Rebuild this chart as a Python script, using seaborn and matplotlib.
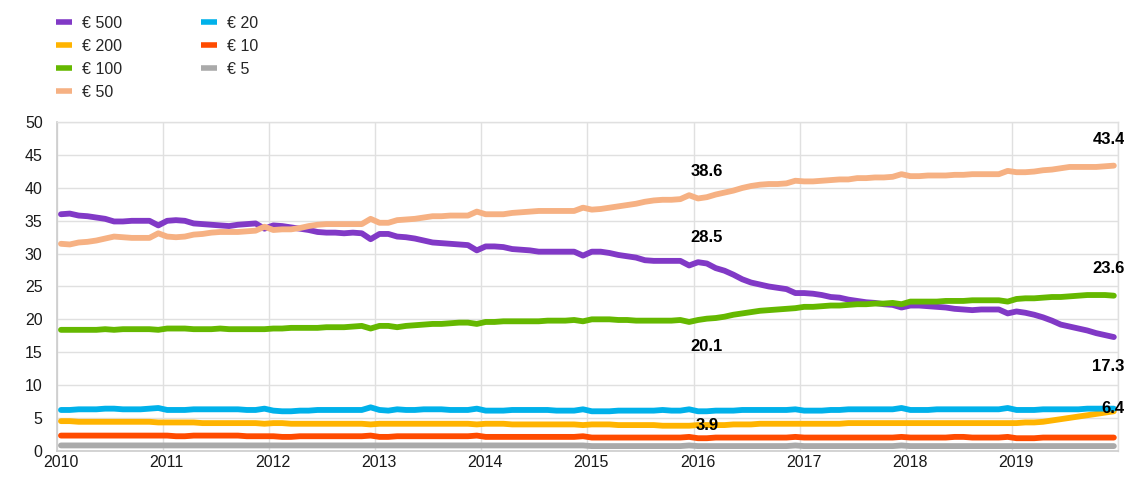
import numpy as np
import pandas as pd
import matplotlib
matplotlib.use("Agg")
import matplotlib.pyplot as plt
import matplotlib.transforms as mtransforms
from matplotlib.lines import Line2D
import seaborn as sns

# Share of banknote denominations in value of circulation (%), monthly, 2010-2019
years = list(range(2010, 2020))

eur500 = [
    36.0, 36.1, 35.8, 35.7, 35.5, 35.3, 34.9, 34.9, 35.0, 35.0, 35.0, 34.3,
    35.0, 35.1, 35.0, 34.6, 34.5, 34.4, 34.3, 34.2, 34.4, 34.5, 34.6, 33.8,
    34.3, 34.2, 34.0, 33.8, 33.6, 33.3, 33.2, 33.2, 33.1, 33.2, 33.1, 32.2,
    33.0, 33.0, 32.6, 32.5, 32.3, 32.0, 31.7, 31.6, 31.5, 31.4, 31.3, 30.5,
    31.1, 31.1, 31.0, 30.7, 30.6, 30.5, 30.3, 30.3, 30.3, 30.3, 30.3, 29.7,
    30.3, 30.3, 30.1, 29.8, 29.6, 29.4, 29.0, 28.9, 28.9, 28.9, 28.9, 28.2,
    28.7, 28.5, 27.8, 27.4, 26.8, 26.1, 25.6, 25.3, 25.0, 24.8, 24.6, 24.0,
    24.0, 23.9, 23.7, 23.4, 23.3, 23.0, 22.8, 22.6, 22.5, 22.3, 22.2, 21.8,
    22.1, 22.1, 22.0, 21.9, 21.8, 21.6, 21.5, 21.4, 21.5, 21.5, 21.5, 20.9,
    21.2, 21.0, 20.7, 20.3, 19.8, 19.2, 18.9, 18.6, 18.3, 17.9, 17.6, 17.3,
]
eur200 = [
    4.5, 4.5, 4.4, 4.4, 4.4, 4.4, 4.4, 4.4, 4.4, 4.4, 4.4, 4.3,
    4.3, 4.3, 4.3, 4.3, 4.2, 4.2, 4.2, 4.2, 4.2, 4.2, 4.2, 4.1,
    4.2, 4.2, 4.1, 4.1, 4.1, 4.1, 4.1, 4.1, 4.1, 4.1, 4.1, 4.0,
    4.1, 4.1, 4.1, 4.1, 4.1, 4.1, 4.1, 4.1, 4.1, 4.1, 4.1, 4.0,
    4.1, 4.1, 4.1, 4.0, 4.0, 4.0, 4.0, 4.0, 4.0, 4.0, 4.0, 3.9,
    4.0, 4.0, 4.0, 3.9, 3.9, 3.9, 3.9, 3.9, 3.8, 3.8, 3.8, 3.8,
    3.9, 3.9, 3.9, 3.9, 4.0, 4.0, 4.0, 4.1, 4.1, 4.1, 4.1, 4.1,
    4.1, 4.1, 4.1, 4.1, 4.1, 4.2, 4.2, 4.2, 4.2, 4.2, 4.2, 4.2,
    4.2, 4.2, 4.2, 4.2, 4.2, 4.2, 4.2, 4.2, 4.2, 4.2, 4.2, 4.2,
    4.2, 4.3, 4.3, 4.4, 4.6, 4.8, 5.0, 5.2, 5.4, 5.6, 5.8, 6.0,
]
eur100 = [
    18.4, 18.4, 18.4, 18.4, 18.4, 18.5, 18.4, 18.5, 18.5, 18.5, 18.5, 18.4,
    18.6, 18.6, 18.6, 18.5, 18.5, 18.5, 18.6, 18.5, 18.5, 18.5, 18.5, 18.5,
    18.6, 18.6, 18.7, 18.7, 18.7, 18.7, 18.8, 18.8, 18.8, 18.9, 19.0, 18.6,
    19.0, 19.0, 18.8, 19.0, 19.1, 19.2, 19.3, 19.3, 19.4, 19.5, 19.5, 19.3,
    19.6, 19.6, 19.7, 19.7, 19.7, 19.7, 19.7, 19.8, 19.8, 19.8, 19.9, 19.7,
    20.0, 20.0, 20.0, 19.9, 19.9, 19.8, 19.8, 19.8, 19.8, 19.8, 19.9, 19.6,
    19.9, 20.1, 20.2, 20.4, 20.7, 20.9, 21.1, 21.3, 21.4, 21.5, 21.6, 21.7,
    21.9, 21.9, 22.0, 22.1, 22.1, 22.2, 22.3, 22.3, 22.4, 22.4, 22.5, 22.3,
    22.7, 22.7, 22.7, 22.7, 22.8, 22.8, 22.8, 22.9, 22.9, 22.9, 22.9, 22.7,
    23.1, 23.2, 23.2, 23.3, 23.4, 23.4, 23.5, 23.6, 23.7, 23.7, 23.7, 23.6,
]
eur50 = [
    31.5, 31.4, 31.7, 31.8, 32.0, 32.3, 32.6, 32.5, 32.4, 32.4, 32.4, 33.1,
    32.6, 32.5, 32.6, 32.9, 33.0, 33.2, 33.3, 33.3, 33.3, 33.4, 33.5, 34.1,
    33.6, 33.7, 33.7, 33.9, 34.2, 34.4, 34.5, 34.5, 34.5, 34.5, 34.5, 35.3,
    34.7, 34.7, 35.1, 35.2, 35.3, 35.5, 35.7, 35.7, 35.8, 35.8, 35.8, 36.4,
    36.0, 36.0, 36.0, 36.2, 36.3, 36.4, 36.5, 36.5, 36.5, 36.5, 36.5, 37.0,
    36.7, 36.8, 37.0, 37.2, 37.4, 37.6, 37.9, 38.1, 38.2, 38.2, 38.3, 38.9,
    38.4, 38.6, 39.0, 39.3, 39.6, 40.0, 40.3, 40.5, 40.6, 40.6, 40.7, 41.1,
    41.0, 41.0, 41.1, 41.2, 41.3, 41.3, 41.5, 41.5, 41.6, 41.6, 41.7, 42.1,
    41.8, 41.8, 41.9, 41.9, 41.9, 42.0, 42.0, 42.1, 42.1, 42.1, 42.1, 42.6,
    42.4, 42.4, 42.5, 42.7, 42.8, 43.0, 43.2, 43.2, 43.2, 43.2, 43.3, 43.4,
]
eur20 = [
    6.2, 6.2, 6.3, 6.3, 6.3, 6.4, 6.4, 6.3, 6.3, 6.3, 6.4, 6.5,
    6.2, 6.2, 6.2, 6.3, 6.3, 6.3, 6.3, 6.3, 6.3, 6.2, 6.2, 6.4,
    6.1, 6.0, 6.0, 6.1, 6.1, 6.2, 6.2, 6.2, 6.2, 6.2, 6.2, 6.6,
    6.2, 6.1, 6.3, 6.2, 6.2, 6.3, 6.3, 6.3, 6.2, 6.2, 6.2, 6.4,
    6.1, 6.1, 6.1, 6.2, 6.2, 6.2, 6.2, 6.2, 6.1, 6.1, 6.1, 6.3,
    6.0, 6.0, 6.0, 6.1, 6.1, 6.1, 6.1, 6.1, 6.2, 6.1, 6.1, 6.3,
    6.0, 6.0, 6.1, 6.1, 6.1, 6.2, 6.2, 6.2, 6.2, 6.2, 6.2, 6.3,
    6.1, 6.1, 6.1, 6.2, 6.2, 6.3, 6.3, 6.3, 6.3, 6.3, 6.3, 6.5,
    6.2, 6.2, 6.2, 6.3, 6.3, 6.3, 6.3, 6.3, 6.3, 6.3, 6.3, 6.5,
    6.2, 6.2, 6.2, 6.3, 6.3, 6.3, 6.3, 6.3, 6.4, 6.4, 6.4, 6.4,
]
eur10 = [
    2.3, 2.3, 2.3, 2.3, 2.3, 2.3, 2.3, 2.3, 2.3, 2.3, 2.3, 2.3,
    2.3, 2.2, 2.2, 2.3, 2.3, 2.3, 2.3, 2.3, 2.3, 2.2, 2.2, 2.2,
    2.2, 2.1, 2.1, 2.2, 2.2, 2.2, 2.2, 2.2, 2.2, 2.2, 2.2, 2.3,
    2.1, 2.1, 2.2, 2.2, 2.2, 2.2, 2.2, 2.2, 2.2, 2.2, 2.2, 2.3,
    2.1, 2.1, 2.1, 2.1, 2.1, 2.1, 2.1, 2.1, 2.1, 2.1, 2.1, 2.2,
    2.0, 2.0, 2.0, 2.0, 2.0, 2.0, 2.0, 2.0, 2.0, 2.0, 2.0, 2.1,
    1.9, 1.9, 2.0, 2.0, 2.0, 2.0, 2.0, 2.0, 2.0, 2.0, 2.0, 2.1,
    2.0, 2.0, 2.0, 2.0, 2.0, 2.0, 2.0, 2.0, 2.0, 2.0, 2.0, 2.1,
    2.0, 2.0, 2.0, 2.0, 2.0, 2.1, 2.1, 2.0, 2.0, 2.0, 2.0, 2.1,
    1.9, 1.9, 1.9, 2.0, 2.0, 2.0, 2.0, 2.0, 2.0, 2.0, 2.0, 2.0,
]
eur5 = [
    0.8, 0.8, 0.8, 0.8, 0.8, 0.8, 0.8, 0.8, 0.8, 0.8, 0.8, 0.8,
    0.8, 0.8, 0.8, 0.8, 0.8, 0.8, 0.8, 0.8, 0.8, 0.8, 0.8, 0.8,
    0.8, 0.8, 0.8, 0.8, 0.8, 0.8, 0.8, 0.8, 0.8, 0.8, 0.8, 0.8,
    0.8, 0.8, 0.8, 0.8, 0.8, 0.8, 0.8, 0.8, 0.8, 0.8, 0.8, 0.8,
    0.8, 0.8, 0.8, 0.8, 0.8, 0.8, 0.8, 0.8, 0.8, 0.8, 0.8, 0.8,
    0.7, 0.7, 0.7, 0.7, 0.7, 0.7, 0.7, 0.7, 0.7, 0.7, 0.7, 0.8,
    0.7, 0.7, 0.7, 0.7, 0.7, 0.7, 0.7, 0.7, 0.7, 0.7, 0.7, 0.8,
    0.7, 0.7, 0.7, 0.7, 0.7, 0.7, 0.7, 0.7, 0.7, 0.7, 0.7, 0.8,
    0.7, 0.7, 0.7, 0.7, 0.7, 0.7, 0.7, 0.7, 0.7, 0.7, 0.7, 0.7,
    0.7, 0.7, 0.7, 0.7, 0.7, 0.7, 0.7, 0.7, 0.7, 0.7, 0.7, 0.7,
]

labels = ["€ 500", "€ 200", "€ 100", "€ 50", "€ 20", "€ 10", "€ 5"]
colors = ["#8139C6", "#FFB400", "#65B800", "#F6B183", "#00B1EA", "#FF4B00", "#AAAAAA"]
series = [eur500, eur200, eur100, eur50, eur20, eur10, eur5]

y_ticks = [0, 5, 10, 15, 20, 25, 30, 35, 40, 45, 50]
x_ticks = list(range(2010, 2021))
x_tick_labels = [str(y) for y in range(2010, 2020)] + [""]

# Mid-month positions in decimal years
months = [y + (m - 0.5) / 12 for y in years for m in range(1, 13)]

frames = []
for lab, vals in zip(labels, series):
    frames.append(pd.DataFrame({"date": months, "share": vals, "note": lab}))
df = pd.concat(frames, ignore_index=True)

sns.set_theme(style="white")
plt.rcParams["font.family"] = ["Liberation Sans", "DejaVu Sans"]

fig = plt.figure(figsize=(11.24, 4.79), dpi=100)
ax = fig.add_axes([0.0503, 0.0591, 0.9446, 0.6856])

sns.lineplot(data=df, x="date", y="share", hue="note", hue_order=labels,
             palette=colors, lw=4.2, legend=False, ax=ax,
             solid_capstyle="round", solid_joinstyle="round", zorder=3)

ax.set_xlim(2010, 2020)
ax.set_ylim(0, 50)
ax.set_xticks(x_ticks)
ax.set_xticklabels(x_tick_labels)
ax.set_yticks(y_ticks)
ax.set_xlabel("")
ax.set_ylabel("")
ax.grid(True, color="#E0E0E0", lw=1.0, zorder=0)
ax.tick_params(axis="both", length=0, labelsize=11.5, colors="#1a1a1a")
ax.tick_params(axis="y", pad=10)
ax.tick_params(axis="x", pad=3)
for side in ["top", "right"]:
    ax.spines[side].set_color("#E0E0E0")
    ax.spines[side].set_linewidth(1.0)
for side in ["left", "bottom"]:
    ax.spines[side].set_color("#CCCCCC")
    ax.spines[side].set_linewidth(1.2)

shift = mtransforms.ScaledTranslation(4 / 100, 0, fig.dpi_scale_trans)
for lbl in ax.get_xticklabels():
    lbl.set_transform(lbl.get_transform() + shift)

# Value labels for February 2016 and the latest observation
feb16 = months.index(2016 + 1.5 / 12)
last = len(months) - 1
mid_notes = [(eur50, 26), (eur500, 26), (eur100, -28), (eur200, 0)]
for vals, dy in mid_notes:
    ax.annotate(f"{vals[feb16]:.1f}", xy=(months[feb16], vals[feb16]),
                xytext=(0, dy), textcoords="offset pixels", ha="center",
                va="center", fontsize=12, fontweight="bold", color="black",
                zorder=5)
end_notes = [(eur50, 26), (eur100, 27), (eur500, -29), (eur20, 0)]
for vals, dy in end_notes:
    ax.annotate(f"{vals[last]:.1f}", xy=(months[last], vals[last]),
                xytext=(11, dy), textcoords="offset pixels", ha="right",
                va="center", fontsize=12, fontweight="bold", color="black",
                zorder=5, annotation_clip=False)

handles = [Line2D([0], [0], color=c, lw=4.0, solid_capstyle="butt") for c in colors]
fig.legend(handles, labels, loc="upper left", ncol=2, frameon=False,
           bbox_to_anchor=(56 / 1124, 1 - 16 / 479), bbox_transform=fig.transFigure,
           borderpad=0, borderaxespad=0, fontsize=11.5, handlelength=1.0,
           handletextpad=0.65, columnspacing=4.9, labelspacing=0.5)

fig.savefig("out.png", dpi=100)
